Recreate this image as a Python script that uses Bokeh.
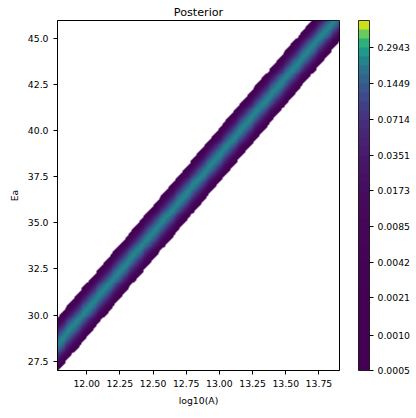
import numpy as np
from bokeh.plotting import figure
from bokeh.models import LogColorMapper, ColorBar, FixedTicker, PrintfTickFormatter
from bokeh.palettes import Viridis256
from bokeh.embed import file_html
from bokeh.resources import INLINE

# ---- values ----
X_RANGE = [11.78, 13.905]          # log10(A)
Y_RANGE = [27.0, 45.96]            # Ea
X_TICKS = [12.0, 12.25, 12.5, 12.75, 13.0, 13.25, 13.5, 13.75]
Y_TICKS = [27.5, 30.0, 32.5, 35.0, 37.5, 40.0, 42.5, 45.0]

# two points on the crest of the posterior ridge
RIDGE_LOG10A = [12.0626, 13.614]
RIDGE_EA = [30.795, 43.825]
RIDGE_PEAK = 0.22                  # density on the crest
RIDGE_EDGE_HALF_WIDTH = 1.47       # Ea offset where density reaches the lowest level

# colour bar (log-spaced filled-contour levels)
CB_TICKS = [0.0005, 0.0010, 0.0021, 0.0042, 0.0085, 0.0173, 0.0351, 0.0714, 0.1449, 0.2943]
N_BANDS = 39
LEVEL_LOW = 0.0005
LEVEL_HIGH = 0.5008

# ---- band colours (linear norm of log-spaced level midpoints, viridis) ----
levels = np.geomspace(LEVEL_LOW, LEVEL_HIGH, N_BANDS + 1)
mids = 0.5 * (levels[:-1] + levels[1:])
t = (mids - levels[0]) / (levels[-1] - levels[0])
band_colors = [Viridis256[min(int(v * 256), 255)] for v in t]

# ---- posterior surface ----
nx, ny = 300, 360
xs = np.linspace(X_RANGE[0], X_RANGE[1], nx)
ys = np.linspace(Y_RANGE[0], Y_RANGE[1], ny)
X, Y = np.meshgrid(xs, ys)
slope = (RIDGE_EA[1] - RIDGE_EA[0]) / (RIDGE_LOG10A[1] - RIDGE_LOG10A[0])
d = Y - (RIDGE_EA[0] + slope * (X - RIDGE_LOG10A[0]))
sigma = RIDGE_EDGE_HALF_WIDTH / np.sqrt(2 * np.log(RIDGE_PEAK / LEVEL_LOW))
Z = RIDGE_PEAK * np.exp(-d ** 2 / (2 * sigma ** 2))

mapper = LogColorMapper(palette=band_colors, low=LEVEL_LOW, high=LEVEL_HIGH,
                        low_color=(0, 0, 0, 0), high_color=band_colors[-1])

FONT = "DejaVu Sans"

p = figure(frame_width=282, frame_height=350,
           x_range=tuple(X_RANGE), y_range=tuple(Y_RANGE),
           output_backend="svg", toolbar_location=None, title="Posterior",
           min_border_left=57, min_border_top=20, min_border_bottom=48,
           min_border_right=0, background_fill_color="white",
           border_fill_color="white")

p.image(image=[Z], x=X_RANGE[0], y=Y_RANGE[0],
        dw=X_RANGE[1] - X_RANGE[0], dh=Y_RANGE[1] - Y_RANGE[0],
        color_mapper=mapper)

p.grid.visible = False
p.outline_line_color = "black"
p.outline_line_width = 1

p.title.align = "center"
p.title.text_font = FONT
p.title.text_font_size = "11.2px"
p.title.text_font_style = "normal"
p.title.text_color = "black"
p.title.standoff = 4

p.xaxis.ticker = FixedTicker(ticks=X_TICKS)
p.yaxis.ticker = FixedTicker(ticks=Y_TICKS)
p.xaxis.formatter = PrintfTickFormatter(format="%.2f")
p.yaxis.formatter = PrintfTickFormatter(format="%.1f")
p.xaxis.axis_label = "log10(A)"
p.yaxis.axis_label = "Ea"

for ax in (p.xaxis[0], p.yaxis[0]):
    ax.axis_line_color = "black"
    ax.major_tick_line_color = "black"
    ax.major_tick_in = 0
    ax.major_tick_out = 4
    ax.minor_tick_line_color = None
    ax.major_label_text_font = FONT
    ax.major_label_text_font_size = "9.3px"
    ax.major_label_text_color = "black"
    ax.axis_label_text_font = FONT
    ax.axis_label_text_font_size = "9.3px"
    ax.axis_label_text_font_style = "normal"
    ax.axis_label_text_color = "black"
    ax.major_label_standoff = 5
    ax.axis_label_standoff = 5

cb = ColorBar(color_mapper=mapper, ticker=FixedTicker(ticks=CB_TICKS),
              formatter=PrintfTickFormatter(format="%.4f"),
              width=11, height=350, padding=0, margin=0,
              location=(19, 0),
              major_tick_out=4, major_tick_in=0,
              major_tick_line_color="black", minor_tick_line_color=None,
              bar_line_color="black", bar_line_width=0.8,
              border_line_color=None, background_fill_color=None,
              label_standoff=4,
              major_label_text_font=FONT, major_label_text_font_size="9.3px",
              major_label_text_color="black")
p.add_layout(cb, "right")
p.min_border_right = 77

open("out.html", "w").write(file_html(p, INLINE))
